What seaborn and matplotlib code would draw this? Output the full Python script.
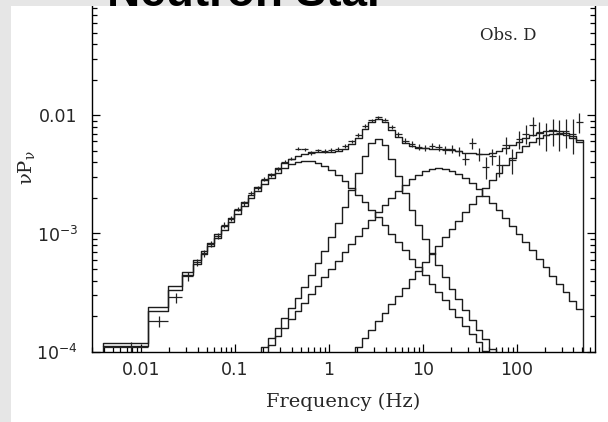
import numpy as np
import matplotlib
matplotlib.use("Agg")
import matplotlib.pyplot as plt
from matplotlib.patches import Rectangle
from matplotlib.ticker import FixedLocator, FixedFormatter, NullFormatter, LogLocator
import seaborn as sns

# ---------------- data ----------------
# frequency bin edges (Hz)
bin_edges = [0.0039, 0.0117, 0.0195, 0.0273, 0.0352, 0.0430, 0.0508, 0.0599, 0.0706,
             0.0832, 0.0980, 0.1155, 0.1362, 0.1605, 0.1891, 0.2229, 0.2627, 0.3096,
             0.3649, 0.4300, 0.5068, 0.5973, 0.7039, 0.8298, 0.9781, 1.153, 1.359,
             1.602, 1.887, 2.225, 2.621, 3.090, 3.641, 4.291, 5.058, 5.961, 7.026,
             8.280, 9.759, 11.50, 13.56, 15.98, 18.83, 22.19, 26.16, 30.83, 36.33,
             42.83, 50.47, 59.48, 70.10, 82.62, 97.39, 114.8, 135.3, 159.4, 187.9,
             221.5, 261.0, 307.6, 362.5, 427.2, 503.6]

# bin centre frequencies (Hz)
freq = [0.0078, 0.0156, 0.0234, 0.0313, 0.0391, 0.0469, 0.0551, 0.0650, 0.0766,
        0.0903, 0.1064, 0.1254, 0.1478, 0.1742, 0.2053, 0.2420, 0.2852, 0.3362,
        0.3962, 0.4669, 0.5503, 0.6486, 0.7645, 0.9010, 1.062, 1.252, 1.475, 1.739,
        2.049, 2.415, 2.847, 3.355, 3.954, 4.660, 5.493, 6.471, 7.628, 8.990, 10.60,
        12.49, 14.72, 17.35, 20.45, 24.10, 28.40, 33.47, 39.45, 46.50, 54.80, 64.58,
        76.10, 89.70, 105.7, 124.6, 146.9, 173.1, 204.0, 240.4, 283.4, 334.0, 393.6,
        463.9]

# Lorentzian components (nu P_nu per bin)
comp_low = [1.11e-4, 2.22e-4, 3.33e-4, 4.45e-4, 5.55e-4, 6.64e-4, 7.79e-4, 9.15e-4,
            1.074e-3, 1.257e-3, 1.467e-3, 1.707e-3, 1.977e-3, 2.275e-3, 2.596e-3,
            2.932e-3, 3.264e-3, 3.573e-3, 3.833e-3, 4.013e-3, 4.096e-3, 4.070e-3,
            3.941e-3, 3.719e-3, 3.434e-3, 3.111e-3, 2.775e-3, 2.444e-3, 2.133e-3,
            1.847e-3, 1.592e-3, 1.365e-3, 1.168e-3, 9.97e-4, 8.49e-4, 7.23e-4, 6.14e-4,
            5.22e-4, 4.44e-4, 3.77e-4, 3.20e-4, 2.72e-4, 2.30e-4, 1.96e-4, 1.66e-4,
            1.41e-4, 1.20e-4, 1.01e-4, 8.6e-5, 7.3e-5, 6.2e-5, 5.3e-5, 4.5e-5, 3.8e-5,
            3.2e-5, 2.7e-5, 2.3e-5, 2.0e-5, 1.7e-5, 1.4e-5, 1.2e-5, 1.0e-5]

comp_qpo = [3.7e-6, 7.5e-6, 1.12e-5, 1.51e-5, 1.89e-5, 2.28e-5, 2.69e-5, 3.19e-5,
            3.78e-5, 4.49e-5, 5.33e-5, 6.35e-5, 7.57e-5, 9.06e-5, 1.086e-4, 1.306e-4,
            1.576e-4, 1.912e-4, 2.330e-4, 2.859e-4, 3.536e-4, 4.415e-4, 5.576e-4,
            7.137e-4, 9.285e-4, 1.232e-3, 1.669e-3, 2.310e-3, 3.240e-3, 4.487e-3,
            5.768e-3, 6.297e-3, 5.594e-3, 4.278e-3, 3.073e-3, 2.194e-3, 1.590e-3,
            1.178e-3, 8.91e-4, 6.86e-4, 5.37e-4, 4.26e-4, 3.42e-4, 2.77e-4, 2.26e-4,
            1.86e-4, 1.53e-4, 1.27e-4, 1.06e-4, 8.8e-5, 7.4e-5, 6.2e-5, 5.2e-5, 4.4e-5,
            3.7e-5, 3.1e-5, 2.6e-5, 2.2e-5, 1.9e-5, 1.6e-5, 1.3e-5, 1.1e-5]

comp_mid = [3.7e-6, 7.4e-6, 1.11e-5, 1.48e-5, 1.85e-5, 2.22e-5, 2.61e-5, 3.08e-5,
            3.63e-5, 4.27e-5, 5.04e-5, 5.94e-5, 7.00e-5, 8.24e-5, 9.72e-5, 1.145e-4,
            1.350e-4, 1.591e-4, 1.874e-4, 2.208e-4, 2.601e-4, 3.064e-4, 3.609e-4,
            4.249e-4, 5.001e-4, 5.883e-4, 6.915e-4, 8.121e-4, 9.522e-4, 1.114e-3,
            1.301e-3, 1.512e-3, 1.750e-3, 2.011e-3, 2.293e-3, 2.583e-3, 2.868e-3,
            3.133e-3, 3.349e-3, 3.491e-3, 3.549e-3, 3.512e-3, 3.386e-3, 3.189e-3,
            2.932e-3, 2.649e-3, 2.359e-3, 2.075e-3, 1.808e-3, 1.565e-3, 1.347e-3,
            1.155e-3, 9.87e-4, 8.43e-4, 7.18e-4, 6.11e-4, 5.19e-4, 4.41e-4, 3.75e-4,
            3.18e-4, 2.70e-4, 2.29e-4]

comp_high = [4e-7, 8e-7, 1.3e-6, 1.7e-6, 2.1e-6, 2.5e-6, 3.0e-6, 3.5e-6, 4.1e-6,
             4.9e-6, 5.7e-6, 6.8e-6, 8.0e-6, 9.4e-6, 1.11e-5, 1.30e-5, 1.54e-5, 1.81e-5,
             2.13e-5, 2.51e-5, 2.96e-5, 3.49e-5, 4.12e-5, 4.85e-5, 5.72e-5, 6.74e-5,
             7.94e-5, 9.36e-5, 1.103e-4, 1.300e-4, 1.533e-4, 1.806e-4, 2.128e-4,
             2.508e-4, 2.956e-4, 3.483e-4, 4.104e-4, 4.835e-4, 5.696e-4, 6.709e-4,
             7.901e-4, 9.300e-4, 1.094e-3, 1.286e-3, 1.511e-3, 1.773e-3, 2.076e-3,
             2.426e-3, 2.825e-3, 3.275e-3, 3.775e-3, 4.316e-3, 4.885e-3, 5.456e-3,
             5.995e-3, 6.458e-3, 6.799e-3, 6.979e-3, 6.974e-3, 6.786e-3, 6.438e-3,
             5.971e-3]

# observed power (nu P_nu) and 1-sigma errors
power = [1.10e-4, 1.81e-4, 2.88e-4, 4.35e-4, 5.7e-4, 6.8e-4, 8.2e-4, 9.6e-4, 1.18e-3,
         1.33e-3, 1.62e-3, 1.80e-3, 2.20e-3, 2.42e-3, 2.87e-3, 3.15e-3, 3.50e-3,
         4.05e-3, 4.30e-3, 5.20e-3, 5.15e-3, 4.80e-3, 5.05e-3, 5.00e-3, 5.10e-3,
         5.20e-3, 5.50e-3, 6.00e-3, 6.80e-3, 8.10e-3, 9.10e-3, 9.60e-3, 9.20e-3,
         8.00e-3, 6.90e-3, 6.10e-3, 5.70e-3, 5.40e-3, 5.30e-3, 5.50e-3, 5.35e-3,
         5.10e-3, 5.20e-3, 4.95e-3, 4.30e-3, 5.80e-3, 4.70e-3, 3.65e-3, 4.50e-3,
         3.80e-3, 5.60e-3, 4.20e-3, 6.30e-3, 7.00e-3, 8.20e-3, 7.20e-3, 6.80e-3,
         7.40e-3, 7.10e-3, 7.30e-3, 7.00e-3, 8.80e-3]

power_err = [1.0e-5, 2.0e-5, 2.8e-5, 3.5e-5, 4.0e-5, 4.5e-5,
             5e-5, 5.5e-5, 6e-5, 6.5e-5, 7e-5, 8e-5, 9e-5, 1.0e-4, 1.1e-4, 1.2e-4,
             1.3e-4, 1.4e-4, 1.5e-4,
             1.6e-4, 1.6e-4, 1.6e-4, 1.7e-4, 1.7e-4, 1.7e-4, 1.8e-4, 1.9e-4, 2.0e-4,
             2.2e-4, 2.5e-4, 2.8e-4,
             3.0e-4, 3.0e-4, 3.0e-4, 3.0e-4, 3.0e-4, 3.0e-4, 3.0e-4, 3.2e-4, 3.4e-4,
             3.6e-4, 3.8e-4, 4.0e-4, 4.3e-4,
             5.0e-4, 6.0e-4, 6.0e-4, 7.5e-4, 7.0e-4, 8.0e-4, 9.0e-4, 1.0e-3,
             1.1e-3, 1.3e-3, 1.5e-3, 1.6e-3, 1.8e-3, 1.9e-3, 2.1e-3, 2.0e-3, 2.3e-3,
             1.7e-3]

x_ticks = [0.01, 0.1, 1, 10, 100]
x_tick_labels = ["0.01", "0.1", "1", "10", "100"]
y_ticks = [1e-4, 1e-3, 1e-2]
y_tick_labels = [r"$\mathregular{10^{-4}}$", r"$\mathregular{10^{-3}}$", "0.01"]

# ---------------- figure ----------------
sns.set_style("ticks")
plt.rcParams["font.family"] = ["DejaVu Sans"]

W, H = 608, 422
fig = plt.figure(figsize=(W / 100, H / 100), dpi=100, facecolor="white")
ax = fig.add_axes([91.7 / W, (H - 351.7) / H, (595 - 91.7) / W, 354.7 / H])
ax.set_facecolor("white")
ax.set_xscale("log")
ax.set_yscale("log")

edges = np.array(bin_edges)
line_col = "#1c1c1c"
components = [comp_low, comp_qpo, comp_mid, comp_high]
total = np.sum(np.array(components), axis=0)

for comp in components + [list(total)]:
    yv = list(comp) + [comp[-1]]
    sns.lineplot(x=edges, y=yv, drawstyle="steps-post", color=line_col,
                 linewidth=1.0, estimator=None, sort=False, ax=ax, legend=False)

# closing edges of the total model histogram
ax.vlines([edges[0], edges[-1]], 1e-6, [total[0], total[-1]],
          color=line_col, linewidth=1.0)

# data points with error bars spanning each bin
fc = np.array(freq)
xerr = [fc - edges[:-1], edges[1:] - fc]
ax.errorbar(fc, power, yerr=power_err, xerr=xerr, fmt="none",
            ecolor="#222222", elinewidth=0.9, capsize=0)

ax.set_xlim(0.00297, 680)
ax.set_ylim(1e-4, 0.1)

ax.xaxis.set_major_locator(FixedLocator(x_ticks))
ax.xaxis.set_major_formatter(FixedFormatter(x_tick_labels))
ax.xaxis.set_minor_locator(LogLocator(base=10, subs=np.arange(2, 10), numticks=20))
ax.xaxis.set_minor_formatter(NullFormatter())
ax.yaxis.set_major_locator(FixedLocator(y_ticks))
ax.yaxis.set_major_formatter(FixedFormatter(y_tick_labels))
ax.yaxis.set_minor_locator(LogLocator(base=10, subs=np.arange(2, 10), numticks=20))
ax.yaxis.set_minor_formatter(NullFormatter())

ax.tick_params(which="both", direction="in", top=True, right=True, color="black",
               width=0.9)
ax.tick_params(which="major", length=5.5, labelsize=12.5)
ax.tick_params(which="minor", length=3.5)
ax.tick_params(axis="x", which="major", pad=7)
ax.tick_params(axis="y", which="major", pad=10)
for sp in ax.spines.values():
    sp.set_visible(True)
    sp.set_color("black")
    sp.set_linewidth(1.0)

ax.set_xlabel("Frequency (Hz)", family="DejaVu Serif", fontsize=14, labelpad=9.5)
ax.set_ylabel(r"νP$_{\mathregular{ν}}$", family="DejaVu Serif", fontsize=14)
ax.yaxis.set_label_coords(-(91.7 - 38) / (595 - 91.7), (351.7 - 168) / 354.7)

ax.text(508 / W, 1 - 35 / H, "Obs. D", transform=fig.transFigure, ha="center",
        va="center", family="DejaVu Serif", fontsize=12)

# slide background strips and clipped slide title
fig.add_artist(Rectangle((0, 0), 11 / W, 1, transform=fig.transFigure,
                         facecolor="#e6e6e6", edgecolor="none", zorder=3))
fig.add_artist(Rectangle((0, 1 - 6 / H), 1, 6 / H, transform=fig.transFigure,
                         facecolor="#e6e6e6", edgecolor="none", zorder=3))
fig.text(246 / W, 1 - 6 / H, "Neutron Star", ha="center", va="baseline",
         fontsize=33, fontweight="bold", family="Liberation Sans", color="black",
         zorder=4)

fig.savefig("out.png", dpi=100, facecolor=fig.get_facecolor())
